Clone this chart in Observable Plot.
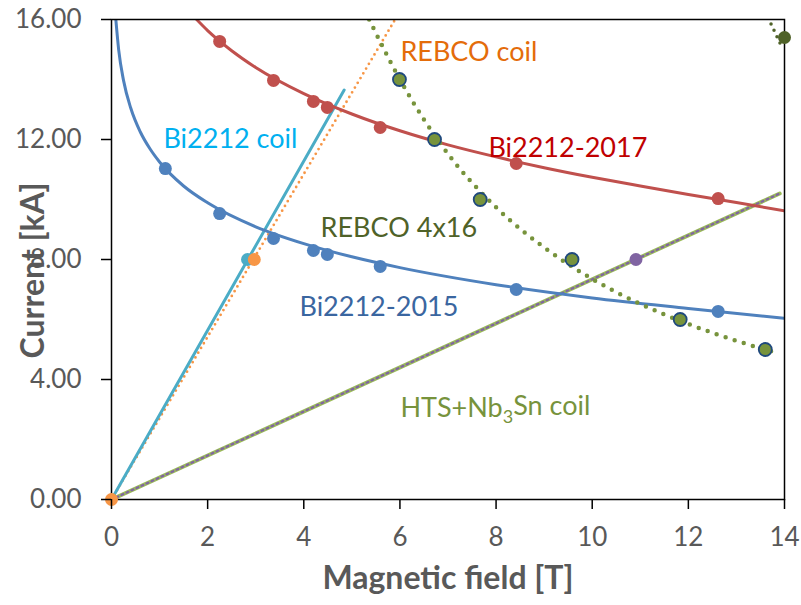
<!DOCTYPE html>
<html>
<head>
<meta charset="utf-8">
<script src="https://cdn.jsdelivr.net/npm/d3@7"></script>
<script src="https://cdn.jsdelivr.net/npm/@observablehq/plot@0.6"></script>
<style>
  html, body { margin: 0; padding: 0; background: #fff; }
  #chart svg { font-family: Lato, "Open Sans", sans-serif; }
</style>
</head>
<body>
<div id="chart"></div>
<script>
// ---- measured points ----
const bi2015Field = [1.12, 2.25, 3.37, 4.20, 4.49, 5.59, 8.42, 12.62];
const bi2015Current = [11.03, 9.53, 8.70, 8.30, 8.17, 7.77, 7.00, 6.27];

const bi2017Field = [2.25, 3.37, 4.20, 4.49, 5.59, 8.42, 12.62];
const bi2017Current = [15.27, 13.97, 13.27, 13.07, 12.40, 11.20, 10.03];

const rebcoField = [5.99, 6.72, 7.67, 9.58, 11.83, 13.60];
const rebcoCurrent = [14.0, 12.0, 10.0, 8.0, 6.0, 5.0];

const rebcoHighField = [14.0];
const rebcoHighCurrent = [15.4];

// ---- trend curves ----
const bi2015TrendField = [0.09, 0.15, 0.25, 0.4, 0.6, 0.8, 1.0, 1.5, 2, 3, 4, 5, 6, 8, 10, 12, 14];
const bi2015TrendCurrent = [16.0, 14.98, 13.97, 13.05, 12.25, 11.69, 11.25, 10.45, 9.89, 9.09, 8.53, 8.09, 7.73, 7.16, 6.72, 6.37, 6.04];

const bi2017TrendField = [1.77, 2, 2.5, 3, 4, 5, 6, 7, 8, 9, 10, 11, 12, 13, 14];
const bi2017TrendCurrent = [16.0, 15.63, 14.96, 14.40, 13.53, 12.85, 12.29, 11.82, 11.42, 11.06, 10.74, 10.45, 10.17, 9.90, 9.62];

const rebcoTrendField = [5.36, 6, 7, 8, 9, 10, 11, 12, 13, 13.9];
const rebcoTrendCurrent = [16.0, 14.0, 11.52, 9.74, 8.40, 7.35, 6.52, 5.85, 5.29, 4.86];

const rebcoHighTrendField = [13.72, 13.96];
const rebcoHighTrendCurrent = [15.85, 15.03];

// ---- load lines ----
const bi2212CoilField = [0, 4.84];
const bi2212CoilCurrent = [0, 13.65];
const bi2212CoilPointField = [2.83];
const bi2212CoilPointCurrent = [8.0];

const rebcoCoilField = [0, 5.9];
const rebcoCoilCurrent = [0, 16.0];
const rebcoCoilPointField = [0, 2.97];
const rebcoCoilPointCurrent = [0, 8.0];

const htsCoilField = [0, 13.9];
const htsCoilCurrent = [0, 10.2];
const htsCoilPointField = [10.91];
const htsCoilPointCurrent = [8.0];

// ---- axes ----
const xTicks = [0, 2, 4, 6, 8, 10, 12, 14];
const yTicks = [0, 4, 8, 12, 16];
const xTitle = "Magnetic field [T]";
const yTitle = "Current [kA]";

// ---- labels ----
const labelText = ["REBCO coil", "Bi2212 coil", "Bi2212-2017", "REBCO 4x16", "Bi2212-2015", "HTS+Nb3Sn coil"];
const labelField = [6.01, 1.08, 7.84, 4.35, 3.91, 6.01];
const labelCurrent = [14.9, 12.0, 11.7, 9.03, 6.4, 3.03];
const labelColor = ["#E46C0A", "#00B0F0", "#C00000", "#4F6228", "#3A66A0", "#77933C"];

const zip = (xs, ys) => xs.map((x, i) => ({x, y: ys[i]}));
const labels = labelText.map((t, i) => ({t, x: labelField[i], y: labelCurrent[i], c: labelColor[i]}));

const plot = Plot.plot({
  width: 801,
  height: 605,
  marginLeft: 111,
  marginRight: 17,
  marginTop: 19,
  marginBottom: 106,
  style: {background: "#fff", fontFamily: "Lato, 'Open Sans', sans-serif", color: "black"},
  x: {domain: [0, 14]},
  y: {domain: [0, 16]},
  marks: [
    // HTS+Nb3Sn coil load line
    Plot.line(zip(htsCoilField, htsCoilCurrent), {x: "x", y: "y", stroke: "#9BBB59", strokeWidth: 4}),
    Plot.line(zip(htsCoilField, htsCoilCurrent), {x: "x", y: "y", stroke: "#8064A2", strokeWidth: 2.2, strokeDasharray: "2,3.5"}),
    // REBCO coil load line
    Plot.line(zip(rebcoCoilField, rebcoCoilCurrent), {x: "x", y: "y", stroke: "#F79646", strokeWidth: 2.8, strokeDasharray: "0,5.5", strokeLinecap: "round", clip: true}),
    // Bi2212 coil load line
    Plot.line(zip(bi2212CoilField, bi2212CoilCurrent), {x: "x", y: "y", stroke: "#4BACC6", strokeWidth: 3}),
    // trends
    Plot.line(zip(bi2015TrendField, bi2015TrendCurrent), {x: "x", y: "y", stroke: "#4F81BD", strokeWidth: 3, curve: "monotone-x", clip: true}),
    Plot.line(zip(bi2017TrendField, bi2017TrendCurrent), {x: "x", y: "y", stroke: "#C0504D", strokeWidth: 3, curve: "monotone-x", clip: true}),
    Plot.line(zip(rebcoTrendField, rebcoTrendCurrent), {x: "x", y: "y", stroke: "#77933C", strokeWidth: 4.5, strokeDasharray: "0,9.5", strokeLinecap: "round", curve: "monotone-x", clip: true}),
    Plot.line(zip(rebcoHighTrendField, rebcoHighTrendCurrent), {x: "x", y: "y", stroke: "#4F6228", strokeWidth: 3.5, strokeDasharray: "0,7", strokeLinecap: "round"}),
    Plot.frame({stroke: "black", strokeWidth: 1.5}),
    // points
    Plot.dot(zip(bi2015Field, bi2015Current), {x: "x", y: "y", r: 6.5, fill: "#4F81BD"}),
    Plot.dot(zip(bi2017Field, bi2017Current), {x: "x", y: "y", r: 6.5, fill: "#C0504D"}),
    Plot.dot(zip(rebcoField, rebcoCurrent), {x: "x", y: "y", r: 6.5, fill: "#77933C", stroke: "#1F497D", strokeWidth: 1.8}),
    Plot.dot(zip(rebcoHighField, rebcoHighCurrent), {x: "x", y: "y", r: 6.5, fill: "#4F6228"}),
    Plot.dot(zip(bi2212CoilPointField, bi2212CoilPointCurrent), {x: "x", y: "y", r: 6.5, fill: "#4BACC6"}),
    Plot.dot(zip(rebcoCoilPointField, rebcoCoilPointCurrent), {x: "x", y: "y", r: 6.5, fill: "#F79646"}),
    Plot.dot(zip(htsCoilPointField, htsCoilPointCurrent), {x: "x", y: "y", r: 6.5, fill: "#8064A2"}),
    // axes
    Plot.axisX({ticks: xTicks, tickSize: 10, tickPadding: 18, fontSize: 26, fill: "#595959", stroke: "black", strokeWidth: 1.5, label: null}),
    Plot.axisY({ticks: yTicks, tickSize: 10, tickPadding: 20, fontSize: 26, fill: "#595959", stroke: "black", strokeWidth: 1.5, tickFormat: d3.format(".2f"), label: null}),
    Plot.text([xTitle], {frameAnchor: "bottom", dy: 89, fontSize: 32, fontWeight: "bold", fill: "#595959"}),
    Plot.text([yTitle], {frameAnchor: "left", textAnchor: "middle", dx: -78, dy: 11, rotate: -90, fontSize: 32, fontWeight: "bold", fill: "#595959"}),
    // series labels
    Plot.text(labels, {x: "x", y: "y", text: "t", fill: "c", textAnchor: "start", fontSize: 27})
  ]
});

// subscript in HTS+Nb3Sn label
d3.select(plot).selectAll("text").filter(function () { return this.textContent === "HTS+Nb3Sn coil"; })
  .each(function () {
    const t = d3.select(this);
    t.text(null);
    t.append("tspan").text("HTS+Nb");
    t.append("tspan").attr("dy", "0.3em").attr("font-size", "18").text("3");
    t.append("tspan").attr("dy", "-0.3em").text("Sn coil");
  });

document.getElementById("chart").appendChild(plot);
</script>
</body>
</html>
